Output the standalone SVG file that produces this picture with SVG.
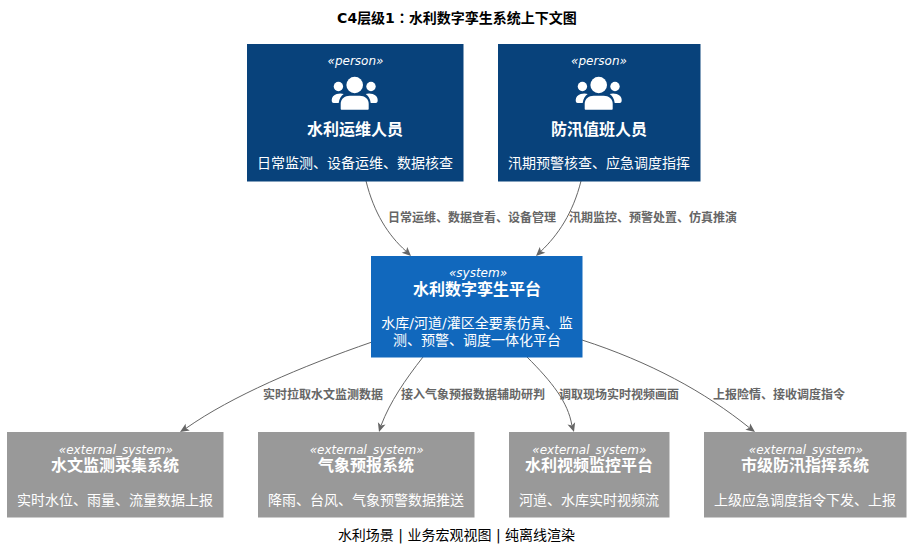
<svg xmlns="http://www.w3.org/2000/svg" width="918" height="550" viewBox="0 0 918 550">
<style>
text{font-family:"DejaVu Sans","Noto Sans CJK SC",sans-serif;text-anchor:middle}
.title{font-size:14px;font-weight:bold;fill:#000}
.colon{font-family:"DejaVu Sans","Noto Sans CJK TC",sans-serif}
.foot{font-size:14px;fill:#000}
.st{font-size:12px;font-style:italic;fill:#fff}
.nm{font-size:16px;font-weight:bold;fill:#fff}
.ds{font-size:14px;fill:#fff}
.lb{font-size:12px;font-weight:bold;fill:#666;text-anchor:start}
.p{fill:#08427B}
.s{fill:#1168BD}
.e{fill:#999999}
.c{fill:none;stroke:#666;stroke-width:1}
.h{fill:#666}
</style>
<defs>
<g id="people" fill="#fff">
<circle cx="0" cy="-8" r="8.300"/>
<circle cx="-16.300" cy="-6.500" r="4.700"/>
<circle cx="16.300" cy="-6.500" r="4.700"/>
<path d="M-14 15.700v-5c0-5 4-8 9-8h10c5 0 9 3 9 8v5c0 .7-.5 1-1 1h-26c-.5 0-1-.3-1-1z"/>
<path d="M-23 7c0-3 2-5 5-6 2.500-.7 5-.7 7 0-2.500 2-4.500 4.500-5 9h-5c-1.500 0-2-1-2-3z"/>
<path d="M23 7c0-3-2-5-5-6-2.500-.7-5-.7-7 0 2.500 2 4.500 4.500 5 9h5c1.500 0 2-1 2-3z"/>
</g>
</defs>
<text class="title" x="457" y="23">C4层级1<tspan class="colon">：</tspan>水利数字孪生系统上下文图</text>
<g id="connectors">
<path class="c" d="M366 181C374 213 388 235 406 251.200"/><polygon class="h" points="411,256 401.700,252.700 406,251.200 407.300,246.900"/>
<path class="c" d="M581 181C573 213 558 235 541 251.200"/><polygon class="h" points="536,256 545.300,252.700 541,251.200 539.700,246.900"/>
<path class="c" d="M372 342C300 367 232 396 186 428.300"/><polygon class="h" points="180,432 189.800,430.600 186,428.300 185.600,423.800"/>
<path class="c" d="M423 357C405 380 390 402 381.100 425.400"/><polygon class="h" points="379,432 385.500,424.600 381.100,425.400 377.900,422.200"/>
<path class="c" d="M527 357C552 382 568 402 571.900 425.400"/><polygon class="h" points="574,432 575.100,422.200 571.900,425.400 567.500,424.600"/>
<path class="c" d="M582 340C650 362 705 392 749.400 427.800"/><polygon class="h" points="755,432 745.400,429.800 749.400,427.800 750.200,423.400"/>
<text class="lb" x="388" y="222">日常运维、数据查看、设备管理</text>
<text class="lb" x="569" y="222">汛期监控、预警处置、仿真推演</text>
<text class="lb" x="263" y="399">实时拉取水文监测数据</text>
<text class="lb" x="401" y="399">接入气象预报数据辅助研判</text>
<text class="lb" x="559" y="399">调取现场实时视频画面</text>
<text class="lb" x="713" y="399">上报险情、接收调度指令</text>
</g>
<g id="person-ops">
<rect class="p" x="247" y="44" width="216.500" height="137.500"/>
<text class="st" x="355.500" y="65">«person»</text>
<use href="#people" x="354.700" y="93"/>
<text class="nm" x="355" y="135">水利运维人员</text>
<text class="ds" x="355" y="168">日常监测、设备运维、数据核查</text>
</g>
<g id="person-duty">
<rect class="p" x="498" y="44" width="202.500" height="137.500"/>
<text class="st" x="599" y="65">«person»</text>
<use href="#people" x="598.700" y="93"/>
<text class="nm" x="599" y="135">防汛值班人员</text>
<text class="ds" x="599" y="168">汛期预警核查、应急调度指挥</text>
</g>
<g id="system-main">
<rect class="s" x="371" y="256" width="211.500" height="101.500"/>
<text class="st" x="478" y="277">«system»</text>
<text class="nm" x="477" y="295">水利数字孪生平台</text>
<text class="ds" x="477" y="328">水库/河道/灌区全要素仿真、监</text>
<text class="ds" x="477" y="345">测、预警、调度一体化平台</text>
</g>
<g id="ext-hydro">
<rect class="e" x="7" y="432" width="216.500" height="85.500"/>
<text class="st" x="115.800" y="454">«external_system»</text>
<text class="nm" x="115" y="471">水文监测采集系统</text>
<text class="ds" x="115" y="505">实时水位、雨量、流量数据上报</text>
</g>
<g id="ext-weather">
<rect class="e" x="258" y="432" width="216.500" height="85.500"/>
<text class="st" x="366.700" y="454">«external_system»</text>
<text class="nm" x="366" y="471">气象预报系统</text>
<text class="ds" x="366" y="505">降雨、台风、气象预警数据推送</text>
</g>
<g id="ext-video">
<rect class="e" x="509" y="432" width="160.500" height="85.500"/>
<text class="st" x="589.300" y="454">«external_system»</text>
<text class="nm" x="589" y="471">水利视频监控平台</text>
<text class="ds" x="589" y="505">河道、水库实时视频流</text>
</g>
<g id="ext-city">
<rect class="e" x="704" y="432" width="202.500" height="85.500"/>
<text class="st" x="805.800" y="454">«external_system»</text>
<text class="nm" x="805" y="471">市级防汛指挥系统</text>
<text class="ds" x="805" y="505">上级应急调度指令下发、上报</text>
</g>
<text class="foot" x="456.500" y="540">水利场景 | 业务宏观视图 | 纯离线渲染</text>
</svg>
